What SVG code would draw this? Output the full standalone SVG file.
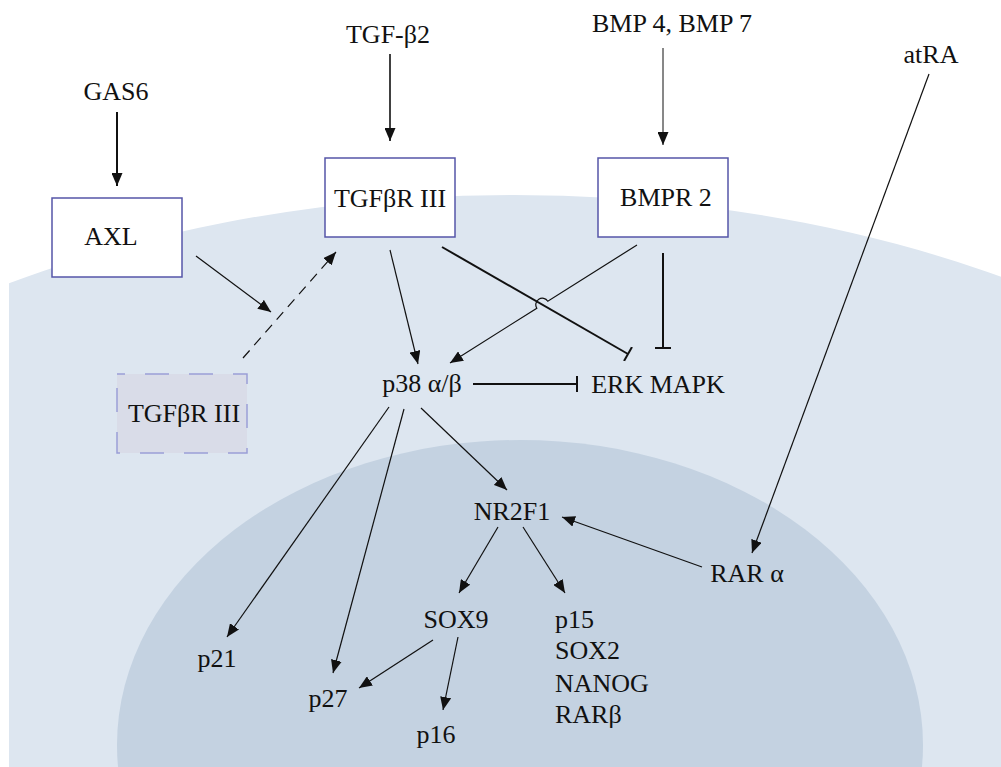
<svg xmlns="http://www.w3.org/2000/svg" width="1001" height="767" viewBox="0 0 1001 767">
<style>
text{font-family:'Liberation Serif','DejaVu Serif',serif;font-size:26px;fill:#111}
.c{text-anchor:middle}
.box{fill:#fff;stroke:#5556a8;stroke-width:1.5}
.dbox{fill:#d9dce8;stroke:#9a9fd6;stroke-width:1.5;stroke-dasharray:24 20;stroke-dashoffset:16}
.a{fill:none;stroke:#111;stroke-width:1.2;marker-end:url(#arr)}
.t{fill:none;stroke:#111;stroke-width:2;marker-end:url(#inh)}
</style>
<defs>
<clipPath id="clip"><rect x="9" y="0" width="992" height="767"/></clipPath>
<marker id="arr" markerUnits="userSpaceOnUse" viewBox="0 0 13 11" refX="13" refY="5.5" markerWidth="13" markerHeight="11" orient="auto"><path d="M0,0 L13,5.5 L0,11 z" fill="#111"/></marker>
<marker id="inh" markerUnits="userSpaceOnUse" viewBox="0 0 4 16" refX="2" refY="8" markerWidth="4" markerHeight="16" orient="auto"><line x1="2" y1="0" x2="2" y2="16" stroke="#111" stroke-width="2"/></marker>
</defs>
<rect width="1001" height="767" fill="#fff"/>
<g id="cell"><ellipse cx="514" cy="840" rx="1000" ry="645" fill="#dde6f0" clip-path="url(#clip)"/></g>
<g id="nucleus"><ellipse cx="520" cy="745" rx="403" ry="305" fill="#c4d2e1"/></g>

<g id="connectors">
<line class="a" x1="117" y1="112" x2="117" y2="186" style="stroke-width:2"/>
<line class="a" x1="390" y1="54" x2="390" y2="141" style="stroke-width:1.6"/>
<line class="a" x1="663" y1="48" x2="663" y2="145" style="stroke-width:1"/>
<line class="a" x1="929" y1="74" x2="752" y2="553"/>
<line class="a" x1="196" y1="256" x2="271" y2="312"/>
<line class="a" x1="243" y1="358" x2="336" y2="252" style="stroke-dasharray:10 7"/>
<line class="a" x1="390" y1="250" x2="418" y2="364"/>
<line class="t" x1="442" y1="247" x2="628" y2="354"/>
<path class="a" d="M637,245 L547.8,301.2 A6.5,6.5 0 0 0 536.8,308.2 L450,363"/>
<line class="t" x1="663" y1="253" x2="663" y2="348"/>
<line class="t" x1="473" y1="384" x2="577" y2="384"/>
<line class="a" x1="389" y1="407" x2="227" y2="637"/>
<line class="a" x1="404" y1="409" x2="333" y2="673"/>
<line class="a" x1="421" y1="408" x2="507" y2="490"/>
<line class="a" x1="498" y1="527" x2="459" y2="593"/>
<line class="a" x1="523" y1="527" x2="565" y2="593"/>
<line class="a" x1="702" y1="567" x2="562" y2="517"/>
<line class="a" x1="433" y1="640" x2="359" y2="688"/>
<line class="a" x1="458" y1="637" x2="443" y2="710"/>
</g>

<g id="gas6"><text class="c" x="116" y="100">GAS6</text></g>
<g id="tgfb2"><text class="c" x="388" y="43">TGF-β2</text></g>
<g id="bmp"><text class="c" x="672" y="32">BMP 4, BMP 7</text></g>
<g id="atra"><text class="c" x="931" y="63">atRA</text></g>
<g id="axl"><rect class="box" x="52" y="198" width="130" height="79"/><text class="c" x="111" y="245">AXL</text></g>
<g id="tgfbr3"><rect class="box" x="325" y="158" width="130" height="79"/><text class="c" x="390" y="207">TGFβR III</text></g>
<g id="bmpr2"><rect class="box" x="598" y="158" width="130" height="79"/><text class="c" x="666" y="206">BMPR 2</text></g>
<g id="tgfbr3-int"><rect class="dbox" x="117" y="374" width="130" height="79"/><text class="c" x="184" y="422">TGFβR III</text></g>
<g id="p38"><text class="c" x="422" y="392">p38 α/β</text></g>
<g id="erk"><text class="c" x="658" y="393">ERK MAPK</text></g>
<g id="nr2f1"><text class="c" x="512" y="520">NR2F1</text></g>
<g id="rara"><text class="c" x="747" y="582">RAR α</text></g>
<g id="sox9"><text class="c" x="456" y="628">SOX9</text></g>
<g id="targets"><text x="555" y="628">p15</text><text x="555" y="659">SOX2</text><text x="555" y="692">NANOG</text><text x="555" y="723">RARβ</text></g>
<g id="p21"><text class="c" x="217" y="667">p21</text></g>
<g id="p27"><text class="c" x="328" y="707">p27</text></g>
<g id="p16"><text class="c" x="436" y="743">p16</text></g>
</svg>
